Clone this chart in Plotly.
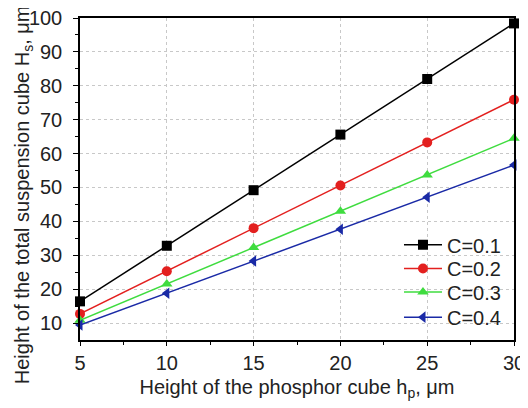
import plotly.graph_objects as go

hp = [5, 10, 15, 20, 25, 30]
names = ["C=0.1", "C=0.2", "C=0.3", "C=0.4"]
c01 = [16.4, 32.8, 49.2, 65.6, 82.0, 98.4]
c02 = [12.7, 25.3, 38.0, 50.6, 63.3, 75.9]
c03 = [10.8, 21.5, 32.3, 43.0, 53.7, 64.5]
c04 = [9.4, 18.8, 28.3, 37.7, 47.1, 56.6]
series = [c01, c02, c03, c04]
colors = ["#000000", "#e3201f", "#3fdc3f", "#1a2aa6"]
symbols = ["square", "circle", "triangle-up", "triangle-left"]
legend_ids = ["legend", "legend2", "legend3", "legend4"]
legend_rows = [0.296, 0.222, 0.149, 0.071]

font = "Liberation Sans, Arial, sans-serif"

fig = go.Figure()
for name, ys, col, sym, lid in zip(names, series, colors, symbols, legend_ids):
    fig.add_trace(go.Scatter(
        x=hp, y=ys, name=name, mode="lines+markers",
        line=dict(color=col, width=1.5),
        marker=dict(symbol=sym, size=10, color=col, line=dict(width=0)),
        cliponaxis=False, legend=lid, showlegend=True,
    ))

axis_common = dict(
    showline=True, linecolor="black", linewidth=1.5, mirror=True,
    ticks="outside", tickwidth=1.2, tickcolor="black",
    showgrid=True, gridcolor="#c8c8c8", griddash="dot", gridwidth=1,
    zeroline=False, automargin=False, ticklabeloverflow="allow",
    tickfont=dict(family=font, size=20, color="#222"),
    title_font=dict(family=font, size=20, color="#222"),
)

fig.update_xaxes(
    range=[5, 30], tickvals=[5, 10, 15, 20, 25, 30], ticklen=4,
    minor=dict(ticks="outside", ticklen=3, tickcolor="black", dtick=2.5, showgrid=False),
    title_text="Height of the phosphor cube h<sub>p</sub>, μm",
    title_standoff=7, ticklabelstandoff=0,
    **axis_common,
)
fig.update_yaxes(
    range=[5, 100], tickvals=[10, 20, 30, 40, 50, 60, 70, 80, 90, 100], ticklen=5,
    minor=dict(ticks="outside", ticklen=3, tickcolor="black", tickvals=[15, 25, 35, 45, 55, 65, 75, 85, 95], showgrid=False),
    ticklabelstandoff=7,
    **axis_common,
)

fig.add_annotation(
    text="Height of the total suspension cube H<sub>s</sub>, μm",
    xref="paper", yref="paper", x=-0.131, y=0.45,
    xanchor="center", yanchor="middle", textangle=-90, showarrow=False,
    font=dict(family=font, size=20, color="#222"),
)

# white legend background hiding the grid behind the legend
fig.add_shape(
    type="rect", xref="paper", yref="paper",
    x0=0.717, x1=0.996, y0=0.004, y1=0.357,
    fillcolor="white", line=dict(width=0), layer="between",
)

legend_style = dict(
    x=0.735, xanchor="left", yanchor="middle",
    bgcolor="rgba(0,0,0,0)", borderwidth=0,
    font=dict(family=font, size=20, color="#222"),
    itemwidth=38, visible=True,
)
layout_legends = {lid: dict(y=yr, **legend_style) for lid, yr in zip(legend_ids, legend_rows)}

fig.update_layout(
    width=520, height=400,
    margin=dict(l=72, r=14, t=10, b=68),
    plot_bgcolor="white", paper_bgcolor="white",
    showlegend=True,
    **layout_legends,
)

fig.write_html("out.html")
